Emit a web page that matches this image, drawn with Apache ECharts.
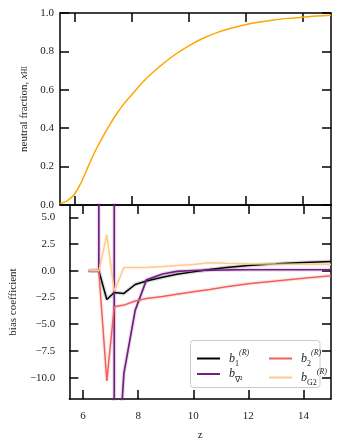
<!DOCTYPE html>
<html>
<head>
<meta charset="utf-8">
<script src="https://cdn.jsdelivr.net/npm/echarts@6/dist/echarts.min.js"></script>
<style>
  html, body { margin: 0; padding: 0; background: #fff; }
  #chart { width: 341px; height: 448px; }
</style>
</head>
<body>
<div id="chart"></div>
<script>
// top panel: neutral fraction vs redshift
const zTop = [5.5, 5.75, 6.0, 6.25, 6.5, 6.75, 7.0, 7.25, 7.5, 7.75, 8.0, 8.5, 9.0, 9.5, 10, 10.5, 11, 11.5, 12, 12.5, 13, 13.5, 14, 14.5, 15]
const xHI = [0.008, 0.022, 0.055, 0.12, 0.205, 0.285, 0.355, 0.42, 0.478, 0.528, 0.572, 0.655, 0.722, 0.78, 0.828, 0.867, 0.898, 0.921, 0.939, 0.953, 0.964, 0.972, 0.978, 0.984, 0.988]

// bottom panel: bias coefficients at the snapshot redshifts
const zSnap = [6.2, 6.57, 6.86, 7.13, 7.48, 7.89, 8.3, 8.88, 9.4, 10, 10.6, 11.2, 12, 13, 14, 15]
const b1 = [0, 0, -2.68, -2.03, -2.12, -1.28, -0.95, -0.6, -0.32, -0.1, 0.12, 0.3, 0.5, 0.65, 0.78, 0.88]
const bNabla = [0, 0, 10000, -24, -9.6, -3.7, -0.85, -0.3, -0.05, 0.03, 0.07, 0.08, 0.1, 0.1, 0.1, 0.1]
const b2 = [0, 0, -10.3, -3.37, -3.21, -2.82, -2.6, -2.4, -2.2, -1.97, -1.75, -1.5, -1.22, -0.95, -0.7, -0.47]
const bG2 = [0, 0, 3.35, -1.9, 0.3, 0.3, 0.32, 0.4, 0.5, 0.6, 0.75, 0.7, 0.66, 0.63, 0.62, 0.6]

const zTicks = [6, 8, 10, 12, 14]
const topTicks = [0, 0.2, 0.4, 0.6, 0.8, 1.0]
const biasTicks = [-10, -7.5, -5, -2.5, 0, 2.5, 5]

const FONT = 'Liberation Serif'
const pairs = (xs, ys) => xs.map((x, i) => [x, ys[i]])
const fmt = v => v.toFixed(1).replace('-', '\u2212')

const tick = (values, show = true) => ({
  show, inside: true, length: 9, customValues: values,
  lineStyle: { color: '#000', width: 1.5 }
})
const line = { show: true, onZero: false, lineStyle: { color: '#000', width: 1.5 } }

const xAxis = (grid, position, showLabel) => ({
  type: 'value', gridIndex: grid, position, min: 5.5, max: 15,
  axisLine: line, axisTick: tick(zTicks), splitLine: { show: false },
  axisLabel: {
    show: showLabel, customValues: zTicks, margin: 12,
    fontFamily: FONT, fontSize: 11, color: '#222'
  }
})

const yAxis = (grid, position, min, max, ticks, showLabel, margin) => ({
  type: 'value', gridIndex: grid, position, min, max,
  axisLine: line, axisTick: tick(ticks), splitLine: { show: false },
  axisLabel: {
    show: showLabel, customValues: ticks, margin, formatter: fmt,
    fontFamily: FONT, fontSize: 11, color: '#222'
  }
})

const colors = { b1: '#000004', bNabla: '#721f81', b2: '#f1605d', bG2: '#feca8d' }
const biasData = { b1, bNabla, b2, bG2 }

const biasSeries = []
Object.keys(colors).forEach(k => {
  biasSeries.push({
    name: k + '_band', type: 'line', xAxisIndex: 2, yAxisIndex: 2,
    data: pairs(zSnap, biasData[k]), showSymbol: false, silent: true,
    lineStyle: { color: colors[k], width: 4, opacity: 0.14 }, z: 1
  })
})
Object.keys(colors).forEach(k => {
  biasSeries.push({
    name: k, type: 'line', xAxisIndex: 2, yAxisIndex: 2,
    data: pairs(zSnap, biasData[k]), showSymbol: false,
    color: colors[k],
    lineStyle: { color: colors[k], width: k === 'bNabla' ? 1.7 : 1.5 }, z: 2
  })
})

const legendText = {
  b1: '{b|b}{sub|1}{sup|(R)}',
  bNabla: '{b|b}{sub|\u2207\u00b2}',
  b2: '{b|b}{sub|2}{sup|(R)}',
  bG2: '{b|b}{sub|G2}{sup|(R)}'
}
const legendRich = {
  b: { fontFamily: FONT, fontStyle: 'italic', fontSize: 12, lineHeight: 19, color: '#222' },
  sub: { fontFamily: FONT, fontSize: 8, lineHeight: 9, verticalAlign: 'bottom', color: '#222' },
  sup: { fontFamily: FONT, fontStyle: 'italic', fontSize: 8, lineHeight: 9, verticalAlign: 'top', color: '#222' }
}
const legend = (left, names) => ({
  left, top: 344, orient: 'vertical', data: names, icon: 'rect',
  itemWidth: 23, itemHeight: 2, itemGap: 0, z: 5,
  formatter: n => legendText[n],
  textStyle: { rich: legendRich, padding: [0, 0, 0, 4] }
})

const chart = echarts.init(document.getElementById('chart'), null, { renderer: 'canvas' })
chart.setOption({
  animation: false,
  backgroundColor: '#fff',
  grid: [
    { left: 60, top: 13, width: 271, height: 192 },
    { left: 60, top: 205, width: 271, height: 194 }
  ],
  xAxis: [
    xAxis(0, 'bottom', false),
    xAxis(0, 'top', false),
    Object.assign(xAxis(1, 'bottom', true), {
      name: 'z', nameLocation: 'middle', nameGap: 31,
      nameTextStyle: { fontFamily: FONT, fontSize: 11, color: '#222' }
    }),
    xAxis(1, 'top', false)
  ],
  yAxis: [
    Object.assign(yAxis(0, 'left', 0, 1, topTicks, true, 6), {
      name: 'neutral fraction, {i|x}{s|HI}', nameLocation: 'middle', nameGap: 30,
      nameTextStyle: {
        fontFamily: FONT, fontSize: 11, color: '#222',
        rich: {
          i: { fontFamily: FONT, fontStyle: 'italic', fontSize: 11, color: '#222' },
          s: { fontFamily: FONT, fontSize: 7.5, color: '#222', verticalAlign: 'bottom', lineHeight: 8 }
        }
      }
    }),
    yAxis(0, 'right', 0, 1, topTicks, false, 6),
    Object.assign(yAxis(1, 'left', -12, 6.16, biasTicks, true, 14), {
      name: 'bias coefficient', nameLocation: 'middle', nameGap: 46,
      nameTextStyle: { fontFamily: FONT, fontSize: 11, color: '#222' }
    }),
    yAxis(1, 'right', -12, 6.16, biasTicks, false, 14)
  ],
  legend: [
    legend(192, ['b1', 'bNabla']),
    legend(264, ['b2', 'bG2'])
  ],
  graphic: [{
    type: 'rect', z: 4,
    shape: { x: 190.5, y: 340.5, width: 129.5, height: 47, r: 3 },
    style: { fill: 'rgba(255,255,255,0.85)', stroke: '#cccccc', lineWidth: 1 }
  }],
  series: [
    {
      name: 'xHI', type: 'line', xAxisIndex: 0, yAxisIndex: 0,
      data: pairs(zTop, xHI), showSymbol: false, smooth: 0.4,
      lineStyle: { color: '#ffa500', width: 1.5 }
    }
  ].concat(biasSeries)
})
</script>
</body>
</html>
